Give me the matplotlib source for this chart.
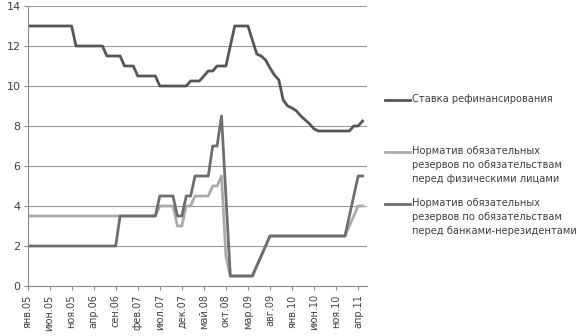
import matplotlib
matplotlib.use("Agg")
import matplotlib.pyplot as plt
from matplotlib.lines import Line2D

# ---- data (monthly, Jan 2005 .. May 2011) ----
refi_rate = [13, 13, 13, 13, 13, 13, 13, 13, 13, 13, 13,
             12, 12, 12, 12, 12, 12, 12,
             11.5, 11.5, 11.5, 11.5,
             11, 11, 11,
             10.5, 10.5, 10.5, 10.5, 10.5,
             10, 10, 10, 10, 10, 10, 10,
             10.25, 10.25, 10.25,
             10.5, 10.75, 10.75,
             11, 11, 11,
             12, 13, 13, 13, 13,
             12.3, 11.6, 11.5, 11.3, 10.9, 10.55, 10.3, 9.3, 9.0, 8.9,
             8.75, 8.5, 8.3, 8.1, 7.85,
             7.75, 7.75, 7.75, 7.75, 7.75, 7.75, 7.75, 7.75,
             8, 8, 8.25]

reserve_individuals = [
    3.5, 3.5, 3.5, 3.5, 3.5, 3.5, 3.5, 3.5, 3.5, 3.5,
    3.5, 3.5, 3.5, 3.5, 3.5, 3.5, 3.5, 3.5, 3.5, 3.5,
    3.5, 3.5, 3.5, 3.5, 3.5, 3.5, 3.5, 3.5, 3.5, 3.5,
    4, 4, 4, 4, 3, 3, 4, 4, 4.5, 4.5, 4.5, 4.5, 5, 5, 5.5,
    1.5, 0.5, 0.5, 0.5, 0.5, 0.5, 0.5, 1, 1.5, 2,
    2.5, 2.5, 2.5, 2.5, 2.5, 2.5, 2.5, 2.5, 2.5,
    2.5, 2.5, 2.5, 2.5, 2.5, 2.5, 2.5, 2.5, 2.5,
    3, 3.5, 4, 4]

reserve_nonresident = [
    2, 2, 2, 2, 2, 2, 2, 2, 2, 2,
    2, 2, 2, 2, 2, 2, 2, 2, 2, 2, 2,
    3.5, 3.5, 3.5, 3.5, 3.5, 3.5, 3.5, 3.5, 3.5,
    4.5, 4.5, 4.5, 4.5, 3.5, 3.5, 4.5, 4.5, 5.5, 5.5, 5.5, 5.5, 7, 7, 8.5,
    4.5, 0.5, 0.5, 0.5, 0.5, 0.5, 0.5, 1, 1.5, 2,
    2.5, 2.5, 2.5, 2.5, 2.5, 2.5, 2.5, 2.5, 2.5,
    2.5, 2.5, 2.5, 2.5, 2.5, 2.5, 2.5, 2.5, 2.5,
    3.5, 4.5, 5.5, 5.5]

tick_positions = [0, 5, 10, 15, 20, 25, 30, 35, 40, 45, 50, 55, 60, 65, 70, 75]
tick_labels = ["янв.05", "июн.05", "ноя.05", "апр.06", "сен.06", "фев.07",
               "июл.07", "дек.07", "май.08", "окт.08", "мар.09", "авг.09",
               "янв.10", "июн.10", "ноя.10", "апр.11"]

series_labels = ["Ставка рефинансирования",
                 "Норматив обязательных\nрезервов по обязательствам\nперед физическими лицами",
                 "Норматив обязательных\nрезервов по обязательствам\nперед банками-нерезидентами"]
colors = ["#575757", "#ababab", "#6e6e6e"]

W, H = 585, 336
fig = plt.figure(figsize=(W / 100, H / 100), dpi=100)
ax = fig.add_axes([27.5 / W, 1 - 286 / H, (367 - 27.5) / W, (286 - 6) / H])

x = list(range(len(refi_rate)))
ax.plot(x, refi_rate, color=colors[0], lw=2.0, solid_joinstyle="round")
ax.plot(x, reserve_individuals, color=colors[1], lw=2.0, solid_joinstyle="round")
ax.plot(x, reserve_nonresident, color=colors[2], lw=2.0, solid_joinstyle="round")

ax.set_xlim(0, 77)
ax.set_ylim(0, 14)
ax.set_yticks(range(0, 15, 2))
ax.set_xticks(tick_positions)
ax.set_xticklabels(tick_labels, rotation=90, fontsize=7, color="#404040")
ax.tick_params(axis="y", labelsize=8, colors="#404040", length=3, width=0.8,
               direction="out", color="#8c8c8c", pad=2)
ax.tick_params(axis="x", length=3, width=0.8, direction="out", color="#8c8c8c", pad=3)
ax.grid(axis="y", color="#9a9a9a", lw=0.8)
ax.set_axisbelow(True)
for s in ["top", "right"]:
    ax.spines[s].set_visible(False)
for s in ["left", "bottom"]:
    ax.spines[s].set_color("#8c8c8c")
    ax.spines[s].set_linewidth(0.8)

# ---- legend (manual, Excel style) ----
entries_y = [100, 152, 204]
for lbl, col, yy in zip(series_labels, colors, entries_y):
    fy = 1 - yy / H
    fig.add_artist(Line2D([385 / W, 410 / W], [fy, fy], color=col, lw=2.0,
                          transform=fig.transFigure))
    fig.text(412 / W, fy + 6 / H, lbl, fontsize=7.1, color="#404040", va="top",
             ha="left", linespacing=1.5, transform=fig.transFigure)

fig.savefig("out.png", dpi=100)
